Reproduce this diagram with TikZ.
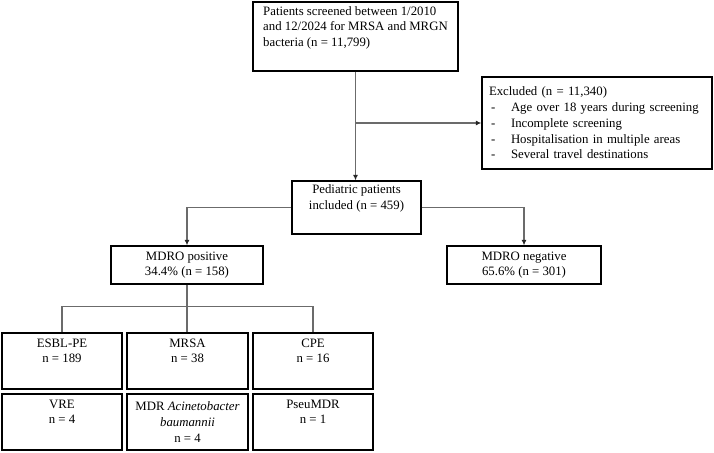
\documentclass[tikz,border=0pt]{standalone}
\usepackage{fontspec}
\setmainfont{Liberation Serif}
\usetikzlibrary{arrows.meta}

\newcommand{\exclitem}[1]{\makebox[22pt][l]{\hspace{2pt}-}#1}

\begin{document}
\begin{tikzpicture}[x=1pt, y=-1pt, node distance=125.5pt,
  font=\fontsize{12.8}{15.7}\selectfont,
  box/.style={draw, line width=1.2pt, inner xsep=3pt, inner ysep=0pt, align=center},
  link/.style={draw=black!58, line width=1.3pt},
  arrow/.style={link, -{Latex[length=5.5pt, width=5pt, color=black!85]}}]
\useasboundingbox (0,0) rectangle (714,452);

\node (screened) [box, align=left, inner xsep=8pt, minimum width=205pt, minimum height=69pt] at (355.5,36.5) {Patients screened between 1/2010\\and 12/2024 for MRSA and MRGN\\bacteria (n = 11,799)\\\strut};
\node (excluded) [box, align=left, text width=216pt, inner xsep=7pt, minimum height=92pt] at (597,123) {Excluded (n = 11,340)\\
  \exclitem{Age over 18 years during screening}\\
  \exclitem{Incomplete screening}\\
  \exclitem{Hospitalisation in multiple areas}\\
  \exclitem{Several travel destinations}};
\node (pediatric) [box, minimum width=129pt, minimum height=53pt] at (356.5,207.5) {Pediatric patients\\included (n = 459)\\\strut};
\node (mdro positive) [box, minimum width=152pt, minimum height=38pt] at (187,265) {MDRO positive\\34.4\% (n = 158)};
\node (mdro negative) [box, minimum width=154pt, minimum height=38pt] at (524,265) {MDRO negative\\65.6\% (n = 301)};

\node (esbl) [box, minimum width=120pt, minimum height=56pt] at (62,361) {ESBL-PE\\n = 189\\\strut};
\node (mrsa) [box, minimum width=121pt, minimum height=56pt, right of=esbl] {MRSA\\n = 38\\\strut};
\node (cpe) [box, minimum width=120pt, minimum height=56pt, right of=mrsa] {CPE\\n = 16\\\strut};
\node (vre) [box, minimum width=120pt, minimum height=56pt, node distance=61pt, below of=esbl] {VRE\\n = 4\\\strut};
\node (acinetobacter) [box, minimum width=121pt, minimum height=56pt, node distance=61pt, below of=mrsa] {MDR \textit{Acinetobacter}\\\textit{baumannii}\\n = 4};
\node (pseumdr) [box, minimum width=120pt, minimum height=56pt, node distance=61pt, below of=cpe] {PseuMDR\\n = 1\\\strut};

\draw [arrow] (screened.south) -- (screened.south |- pediatric.north);
\coordinate (split) at (screened.south |- excluded.west);
\draw [arrow] (split) -- (excluded.west);

\draw [arrow] (pediatric.west) -| (mdro positive.north);
\draw [arrow] (pediatric.east) -| (mdro negative.north);

\draw [link] (mdro positive.south) -- ++(0,22) coordinate (fork);
\draw [link] (esbl.north) |- (fork) -| (cpe.north);
\draw [link] (fork) -- (fork |- mrsa.north);

\end{tikzpicture}
\end{document}
